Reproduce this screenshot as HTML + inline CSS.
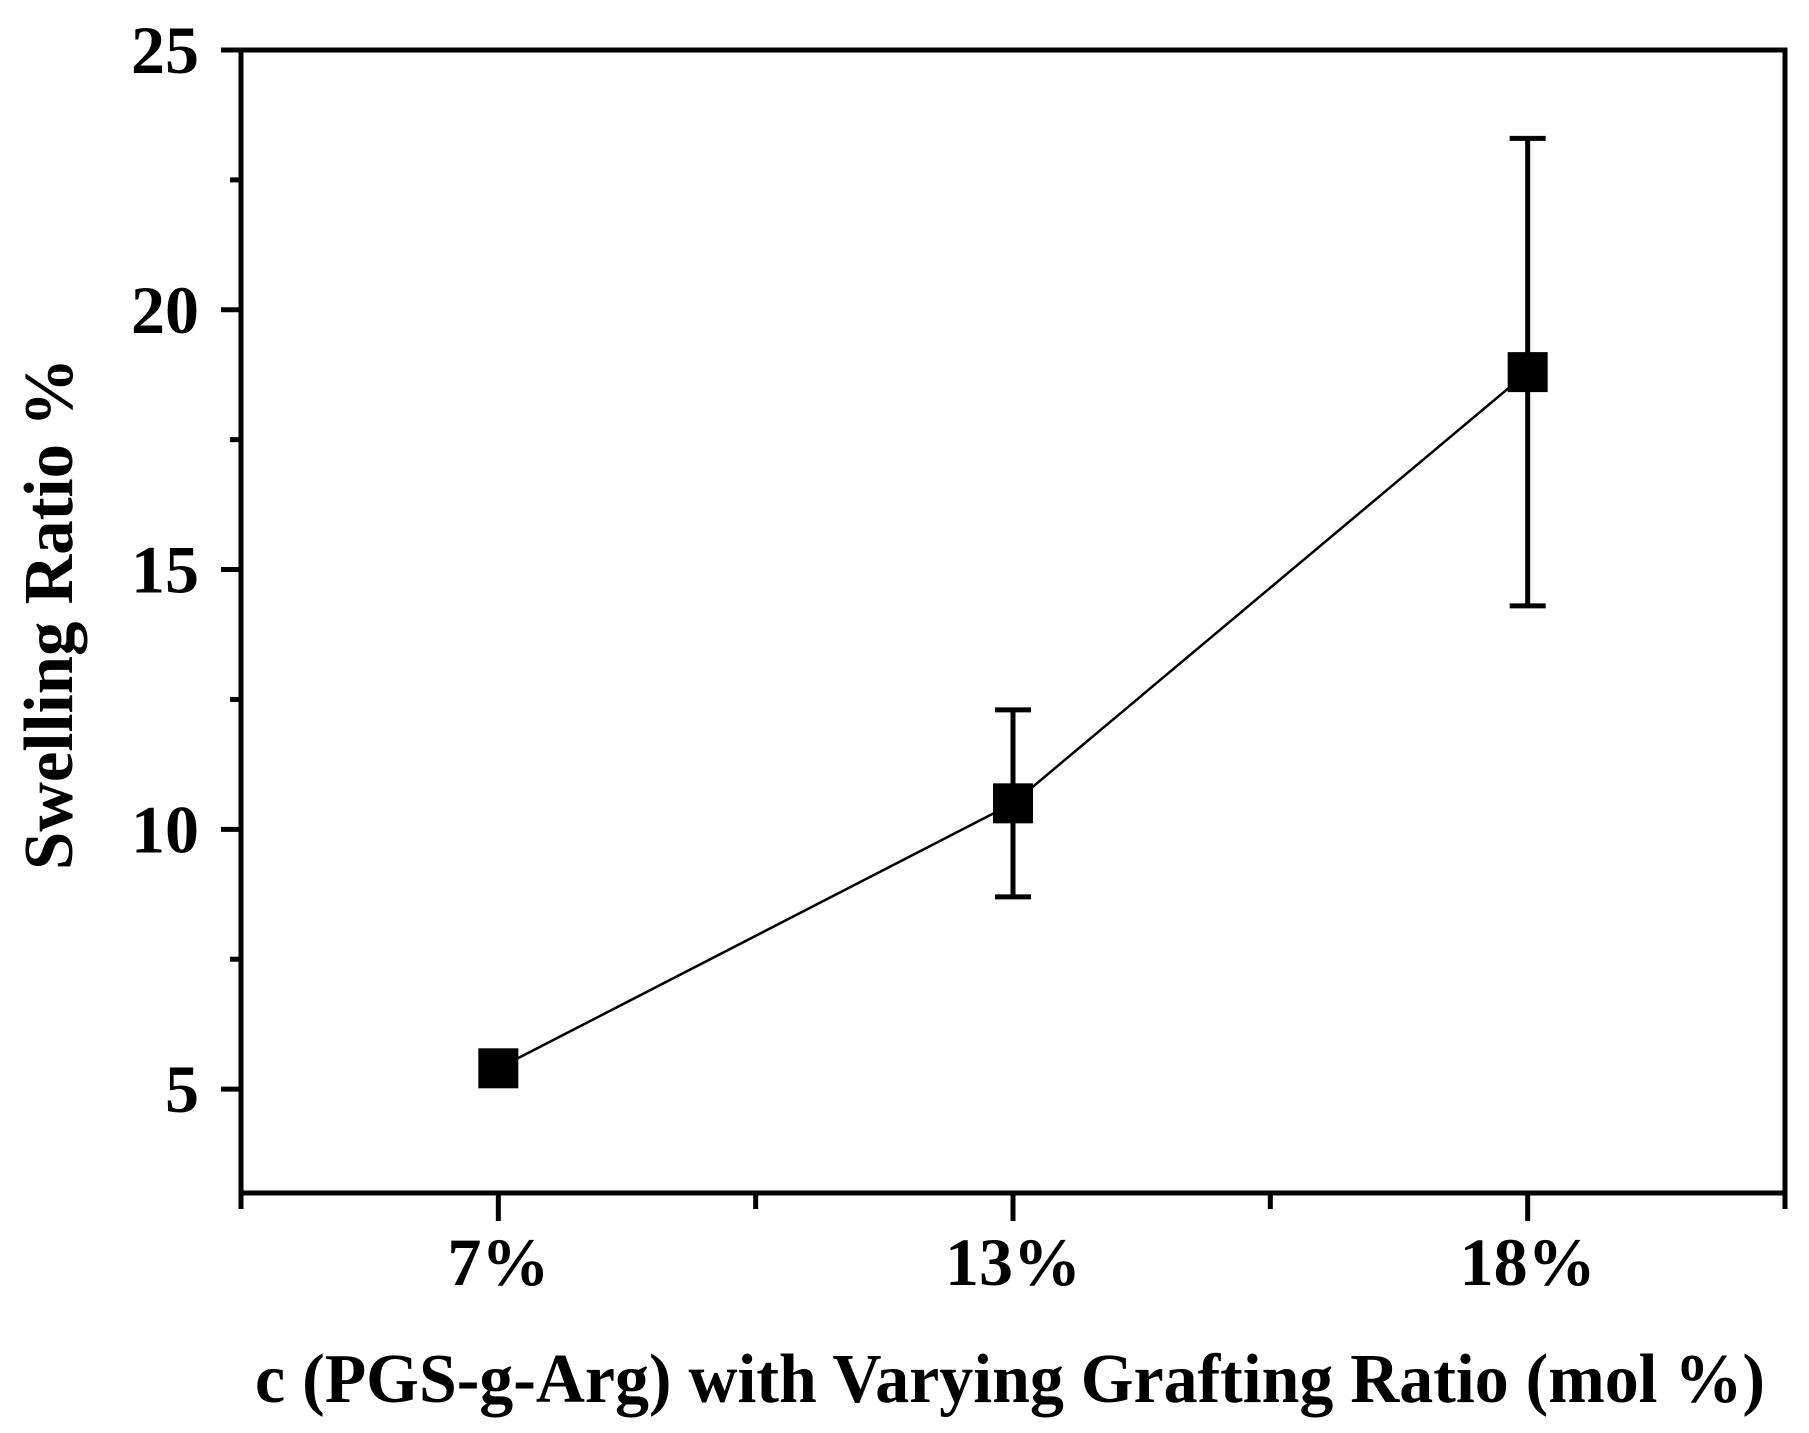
<!DOCTYPE html>
<html><head><meta charset="utf-8"><style>
html,body{margin:0;padding:0;background:#fff;}
svg{display:block;font-family:"Liberation Serif",serif;font-weight:bold;}
</style></head><body>
<svg id="chart" width="1809" height="1433" viewBox="0 0 1809 1433" xmlns="http://www.w3.org/2000/svg">
<rect width="1809" height="1433" fill="#fff"/>
<g id="axes"></g>
<g id="series"></g>
<text x="1010" y="1402" text-anchor="middle" font-size="70" textLength="1510" lengthAdjust="spacingAndGlyphs">c (PGS-g-Arg) with Varying Grafting Ratio (mol %)</text>
<text transform="translate(72,614) rotate(-90)" text-anchor="middle" font-size="70" textLength="512" lengthAdjust="spacingAndGlyphs">Swelling Ratio %</text>
</svg>
<script>
const categories = ["7%", "13%", "18%"];
const values = [5.4, 10.5, 18.8];
const errors = [0.2, 1.8, 4.5];
const yTicks = [5, 10, 15, 20, 25];
const yMinor = [7.5, 12.5, 17.5, 22.5];

const L = 241, R = 1785, T = 50, B = 1193;
const yMin = 3, yMax = 25;
const ns = "http://www.w3.org/2000/svg";
function ys(v){ return B - (v - yMin) / (yMax - yMin) * (B - T); }
function xs(i){ return L + (i + 0.5) / categories.length * (R - L); }
function mk(tag, attrs, parent){
  const e = document.createElementNS(ns, tag);
  for (const k in attrs) e.setAttribute(k, attrs[k]);
  parent.appendChild(e);
  return e;
}
const ax = document.getElementById('axes');
const se = document.getElementById('series');
const frame = mk('rect', {x:L, y:T, width:R-L, height:B-T, fill:'none', stroke:'#000', 'stroke-width':5}, ax);


yTicks.forEach(v => {
  const t = mk('line', {x1:L-20, x2:L, y1:ys(v), y2:ys(v), stroke:'#000', 'stroke-width':5}, ax);
  
  
  const lb = mk('text', {x:L-42, y:ys(v)+23, 'text-anchor':'end', 'font-size':68}, ax);
  lb.textContent = v;
  
  
});
yMinor.forEach(v => {
  const t = mk('line', {x1:L-11, x2:L, y1:ys(v), y2:ys(v), stroke:'#000', 'stroke-width':5}, ax);
  
  
});
for (let i = 0; i <= categories.length; i++) {
  const x = L + i / categories.length * (R - L);
  const t = mk('line', {x1:x, x2:x, y1:B, y2:B+16, stroke:'#000', 'stroke-width':5}, ax);
  
  
}
categories.forEach((c, i) => {
  const t = mk('line', {x1:xs(i), x2:xs(i), y1:B, y2:B+28, stroke:'#000', 'stroke-width':5}, ax);
  
  
  const lb = mk('text', {x:xs(i), y:1285, 'text-anchor':'middle', 'font-size':68}, ax);
  lb.textContent = c;
  
  
});
const pts = values.map((v, i) => xs(i) + ',' + ys(v)).join(' ');
const line = mk('polyline', {points:pts, fill:'none', stroke:'#000', 'stroke-width':2.5}, se);


values.forEach((v, i) => {
  const x = xs(i), yt = ys(v + errors[i]), yb = ys(v - errors[i]);
  const g = mk('g', {}, se);
  
  
  mk('line', {x1:x, x2:x, y1:yt, y2:yb, stroke:'#000', 'stroke-width':5}, g);
  mk('line', {x1:x-18, x2:x+18, y1:yt, y2:yt, stroke:'#000', 'stroke-width':5}, g);
  mk('line', {x1:x-18, x2:x+18, y1:yb, y2:yb, stroke:'#000', 'stroke-width':5}, g);
  const m = mk('rect', {x:x-20, y:ys(v)-20, width:40, height:40, fill:'#000'}, se);
  
  
});
</script>
</body></html>
